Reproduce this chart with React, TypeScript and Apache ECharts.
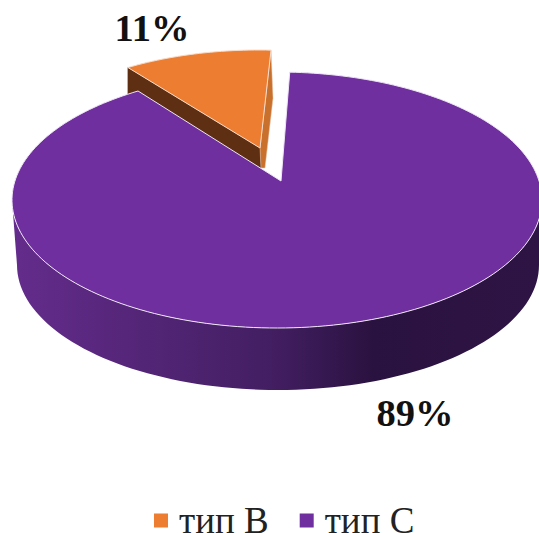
import React, { useEffect, useRef } from "react";
import * as echarts from "echarts";

// Shares of the two types, in percent
const typeNames = ["тип В", "тип С"];
const typeShares = [11, 89];
const typeColors = ["#ED7D31", "#6F2F9E"];

// Clockwise angle, from the back of the pie, where the first slice begins
const firstSliceAngle = -36.4;

type Disc = { cx: number; cy: number; rx: number; ry: number; tilt: number };

// Top faces of the two exploded slices, as seen through the perspective
const bDisc: Disc = { cx: 259, cy: 168, rx: 250, ry: 118, tilt: 0.148 };
const cDisc: Disc = { cx: 277, cy: 200, rx: 265, ry: 128, tilt: 0.148 };
const cBase = { cx: 278, cy: 265, rx: 261, ry: 125 };
const bApex = [260, 148];
const cApex = [281, 181];

const rad = Math.PI / 180;

// Perspective compresses the far side of the circle and stretches the near side
function rimPoint(d: Disc, angle: number): number[] {
  const a = ((angle + 540) % 360) - 180;
  const k = Math.sqrt((1 - d.tilt) / (1 + d.tilt));
  const t = 2 * Math.atan(k * Math.tan((a * rad) / 2));
  return [d.cx + d.rx * Math.sin(t), d.cy - d.ry * Math.cos(t)];
}

function arc(d: Disc, from: number, to: number): number[][] {
  const pts: number[][] = [];
  const n = Math.max(8, Math.ceil(Math.abs(to - from) / 1.5));
  for (let i = 0; i <= n; i++) pts.push(rimPoint(d, from + ((to - from) * i) / n));
  return pts;
}

function ellipseArc(e: { cx: number; cy: number; rx: number; ry: number }, from: number, to: number) {
  const pts: number[][] = [];
  for (let a = from; a <= to + 0.01; a += 2) {
    pts.push([e.cx + e.rx * Math.sin(a * rad), e.cy - e.ry * Math.cos(a * rad)]);
  }
  return pts;
}

function sliceRange(index: number, value: number) {
  const total = typeShares.reduce((s, v) => s + v, 0);
  const before = typeShares.slice(0, index).reduce((s, v) => s + v, 0);
  const start = firstSliceAngle + (before / total) * 360;
  return [start, start + (value / total) * 360];
}

const pctLabel = (x: number, y: number, value: number) => ({
  type: "text",
  x,
  y,
  style: {
    text: `${value}%`,
    fontFamily: "Liberation Serif",
    fontWeight: "bold",
    fontSize: 38.5,
    fill: "#111",
    textAlign: "center",
    textVerticalAlign: "middle",
  },
});

function renderB(_: unknown, api: any) {
  const value = api.value(0);
  const [a0, a1] = sliceRange(0, value);
  const rim = arc(bDisc, a0, a1);
  const left = rim[0];
  const right = rim[rim.length - 1];
  return {
    type: "group",
    children: [
      {
        type: "polygon",
        shape: {
          points: [
            left,
            bApex,
            [bApex[0] + 1, bApex[1] + 20],
            [left[0], left[1] + 27],
          ],
        },
        style: { fill: "#5F2F13", stroke: "#5F2F13", lineWidth: 0.5 },
      },
      {
        type: "polygon",
        shape: {
          points: [
            right,
            [right[0] + 2, right[1] + 48],
            [bApex[0] + 5, bApex[1] + 20],
            [bApex[0] + 1, bApex[1] + 20],
            bApex,
          ],
        },
        style: { fill: "#C9702D", stroke: "#E9C9B0", lineWidth: 0.5 },
      },
      {
        type: "polygon",
        shape: { points: [bApex, ...rim] },
        style: { fill: typeColors[0], stroke: "#F7DCCB", lineWidth: 1 },
      },
      pctLabel(152, 28, value),
    ],
  };
}

function renderC(_: unknown, api: any) {
  const value = api.value(0);
  const [a0, a1] = sliceRange(1, value);
  const wallTop = ellipseArc(cDisc, 90, 270);
  const wallBottom = ellipseArc(cBase, 90, 270).reverse();
  return {
    type: "group",
    children: [
      {
        type: "polygon",
        shape: { points: [...wallTop, ...wallBottom] },
        style: {
          fill: new echarts.graphic.LinearGradient(0, 0, 1, 0, [
            { offset: 0, color: "#642C8C" },
            { offset: 0.5, color: "#421E61" },
            { offset: 0.68, color: "#2A1240" },
            { offset: 1, color: "#2E1444" },
          ]),
        },
      },
      {
        type: "polygon",
        shape: { points: [cApex, ...arc(cDisc, a0, a1)] },
        style: { fill: typeColors[1], stroke: "#EFE6F5", lineWidth: 1 },
      },
      pctLabel(415, 413, value),
    ],
  };
}

export default function App() {
  const ref = useRef<HTMLDivElement>(null);

  useEffect(() => {
    document.body.style.margin = "0";
    const chart = echarts.init(ref.current!, null, { renderer: "svg" });
    chart.setOption({
      animation: false,
      backgroundColor: "#fff",
      legend: {
        left: 154,
        top: 502,
        padding: 0,
        icon: "rect",
        itemWidth: 14,
        itemHeight: 14,
        itemGap: 31,
        selectedMode: false,
        data: typeNames,
        textStyle: {
          fontFamily: "Liberation Serif",
          fontSize: 37,
          lineHeight: 26,
          color: "#222",
          padding: [0, 0, 0, 6],
        },
      },
      series: [
        {
          type: "custom",
          name: typeNames[0],
          coordinateSystem: "none",
          silent: true,
          itemStyle: { color: typeColors[0] },
          renderItem: renderB,
          data: [[typeShares[0]]],
        },
        {
          type: "custom",
          name: typeNames[1],
          coordinateSystem: "none",
          silent: true,
          itemStyle: { color: typeColors[1] },
          renderItem: renderC,
          data: [[typeShares[1]]],
        },
      ],
    });
    return () => chart.dispose();
  }, []);

  return <div ref={ref} style={{ width: 539, height: 533 }} />;
}
